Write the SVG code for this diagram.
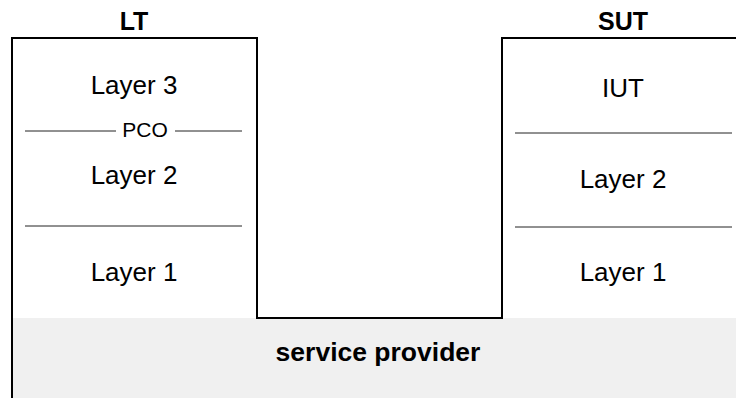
<svg xmlns="http://www.w3.org/2000/svg" width="736" height="398" viewBox="0 0 736 398">
<style>
text{font-family:"Liberation Sans",Arial,Helvetica,sans-serif;fill:#000;text-anchor:middle}
.t{font-size:26px}
.h{font-size:25px;font-weight:bold}
.p{font-size:21px}
.sp{font-size:26.5px;font-weight:bold}
.sep{stroke:#222;stroke-width:1;fill:none}
.frame{stroke:#000;stroke-width:2;fill:none}
</style>
<rect x="12" y="318" width="724" height="80" fill="#f0f0f0"/>
<g id="connectors"></g>
<g id="frame"><path class="frame" d="M12,398 V38 H257 V318 H502 V38 H737"/></g>
<g id="lt">
<text class="h" x="134" y="30">LT</text>
<text class="t" x="134" y="94">Layer 3</text>
<line class="sep" x1="25" y1="131" x2="116" y2="131"/>
<text class="p" x="145" y="137">PCO</text>
<line class="sep" x1="175" y1="131" x2="242" y2="131"/>
<text class="t" x="134" y="184">Layer 2</text>
<line class="sep" x1="25" y1="226" x2="242" y2="226"/>
<text class="t" x="134" y="281">Layer 1</text>
</g>
<g id="sut">
<text class="h" x="623" y="30">SUT</text>
<text class="t" x="623" y="97">IUT</text>
<line class="sep" x1="515" y1="133" x2="732" y2="133"/>
<text class="t" x="623" y="188">Layer 2</text>
<line class="sep" x1="515" y1="227" x2="732" y2="227"/>
<text class="t" x="623" y="281">Layer 1</text>
</g>
<g id="provider">
<text class="sp" x="378" y="361">service provider</text>
</g>
</svg>
